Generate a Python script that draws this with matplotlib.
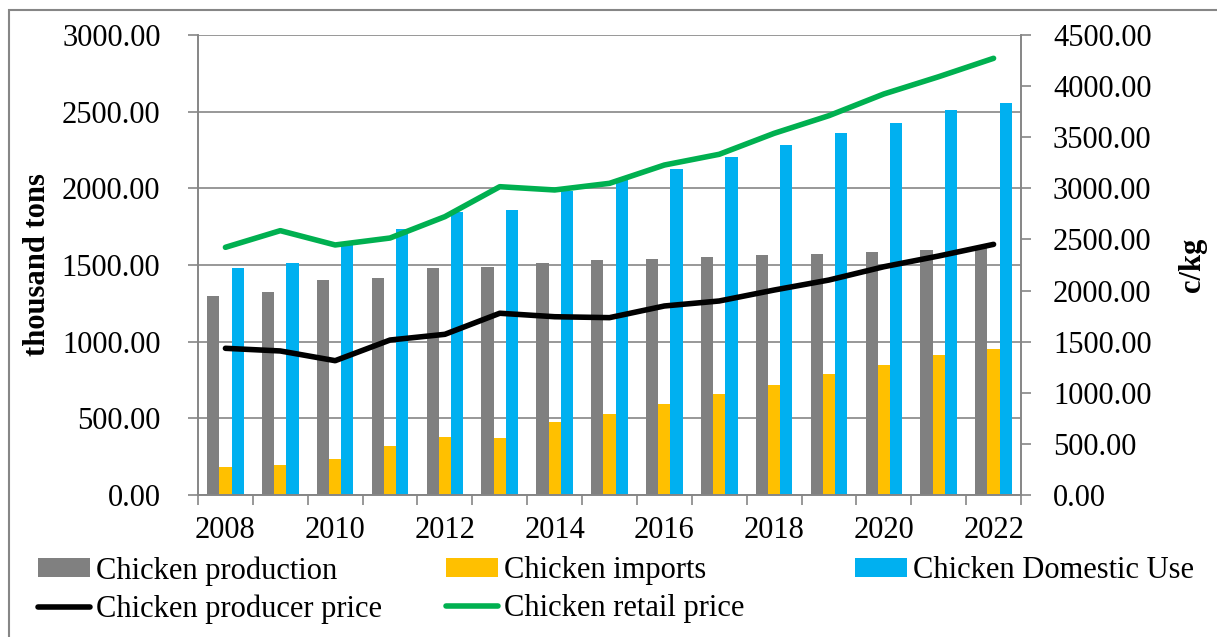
import numpy as np
import matplotlib
matplotlib.use("Agg")
import matplotlib.pyplot as plt
from matplotlib.patches import Rectangle

years = list(range(2008, 2023))

# thousand tons (left axis)
production = [1295, 1322, 1404, 1415, 1480, 1489, 1513, 1533, 1539, 1552, 1565, 1574, 1587, 1598, 1615]
imports = [185, 196, 235, 320, 376, 372, 476, 528, 593, 657, 720, 787, 846, 913, 952]
domestic_use = [1480, 1511, 1640, 1733, 1848, 1859, 1985, 2054, 2128, 2207, 2283, 2359, 2428, 2509, 2557]

# c/kg (right axis)
producer_price = [1435, 1409, 1314, 1516, 1572, 1778, 1744, 1735, 1849, 1898, 2005, 2103, 2233, 2338, 2452]
retail_price = [2423, 2586, 2446, 2514, 2723, 3016, 2984, 3049, 3228, 3333, 3538, 3711, 3923, 4092, 4272]

plt.rcParams['font.family'] = ['Liberation Serif', 'DejaVu Serif']
plt.rcParams['font.size'] = 22

GRID = '#868686'

fig = plt.figure(figsize=(12.17, 6.37), dpi=100)
ax = fig.add_axes([198 / 1217, 1 - 495 / 637, (1021 - 198) / 1217, (495 - 35) / 637])
ax2 = ax.twinx()

x = np.arange(len(years))
w = 0.222
ax.bar(x - w, production, w, color='#808080', label='Chicken production', zorder=2)
ax.bar(x, imports, w, color='#FFC000', label='Chicken imports', zorder=2)
ax.bar(x + w, domestic_use, w, color='#00B0F0', label='Chicken Domestic Use', zorder=2)

ax2.plot(x, producer_price, color='black', lw=4, solid_capstyle='round',
         solid_joinstyle='round', label='Chicken producer price')
ax2.plot(x, retail_price, color='#00B050', lw=4, solid_capstyle='round',
         solid_joinstyle='round', label='Chicken retail price')

ax.set_xlim(-0.5, len(years) - 0.5)
ax.set_ylim(0, 3000)
ax2.set_ylim(0, 4500)
ax.set_yticks(np.arange(0, 3001, 500))
ax2.set_yticks(np.arange(0, 4501, 500))
ax.yaxis.set_major_formatter(lambda v, p: f"{v:.2f}")
ax2.yaxis.set_major_formatter(lambda v, p: f"{v:.2f}")

# labels at every other year, tick marks between the groups
ax.set_xticks(x[::2])
ax.set_xticklabels([str(y) for y in years[::2]])
ax.set_xticks(np.arange(-0.5, len(years)), minor=True)
ax.tick_params(axis='x', which='major', length=0, pad=15)
ax.tick_params(axis='x', which='minor', length=7, color=GRID, width=1.2)
ax.tick_params(axis='y', length=7, color=GRID, width=1.2, pad=20)
ax2.tick_params(axis='y', length=7, color=GRID, width=1.2, pad=16)

ax.grid(axis='y', color=GRID, lw=1.2, zorder=0)
ax.set_axisbelow(True)
for a in (ax, ax2):
    for s in a.spines.values():
        s.set_color(GRID)
        s.set_linewidth(1.2)
ax.spines['top'].set_visible(False)
ax2.spines['top'].set_visible(False)

fig.text(38 / 1217, 1 - 265 / 637, 'thousand tons', rotation=90, fontweight='bold',
         ha='center', va='center')
fig.text(1192 / 1217, 1 - 265 / 637, 'c/kg', rotation=90, fontweight='bold',
         ha='center', va='center')

# legend laid out row by row like the original, one legend per column
h1, l1 = ax.get_legend_handles_labels()
h2, l2 = ax2.get_legend_handles_labels()
columns = [([h1[0], h2[0]], [l1[0], l2[0]], 38),
           ([h1[1], h2[1]], [l1[1], l2[1]], 446),
           ([h1[2]], [l1[2]], 855)]
for hs, ls, xpos in columns:
    leg = fig.legend(hs, ls, loc='upper left', bbox_to_anchor=(xpos / 1217, 1 - 556 / 637),
                     frameon=False, handlelength=1.7, handleheight=0.6, handletextpad=0.2,
                     labelspacing=0.3, borderaxespad=0, borderpad=0)

fig.patches.append(Rectangle((9 / 1217, -0.05), 1.2, 1 - 10 / 637 + 0.05,
                             transform=fig.transFigure, fill=False, ec=GRID, lw=1.5))

fig.savefig('out.png', dpi=100)
